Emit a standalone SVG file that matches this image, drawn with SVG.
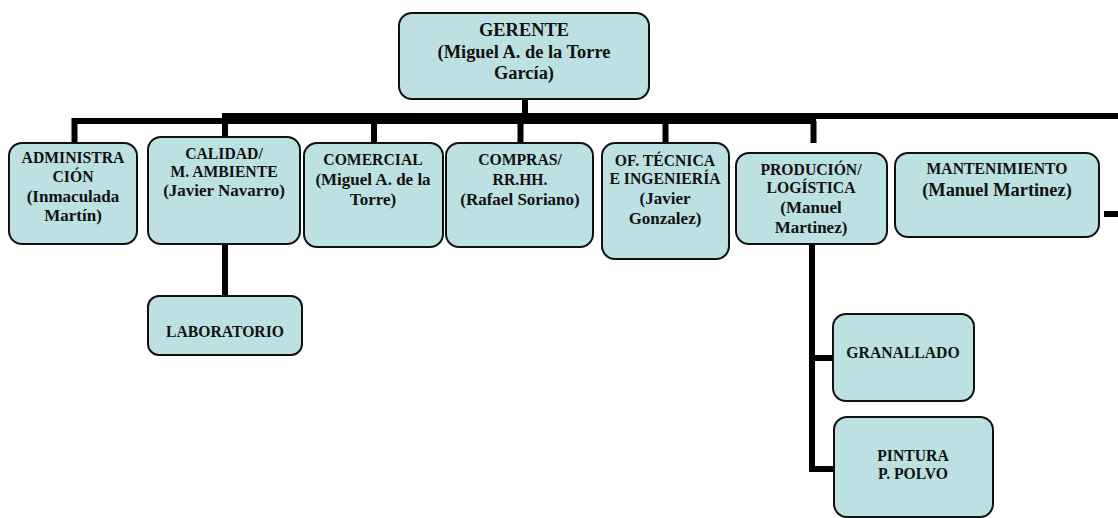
<svg xmlns="http://www.w3.org/2000/svg" width="1118" height="518" viewBox="0 0 1118 518">
<style>
.box{fill:#bde0e3;stroke:#111;stroke-width:2}
.ln{stroke:#000;fill:none;stroke-width:6}
text{font-family:"Liberation Serif","Times New Roman",serif;font-weight:bold;fill:#111;text-anchor:middle}
.t{font-size:15.7px}
.n{font-size:17px}
.g{font-size:18.4px}
</style>
<rect width="1118" height="518" fill="#fff"/>
<g id="connectors">
<line class="ln" x1="72" y1="121" x2="816" y2="121"/>
<line class="ln" x1="222" y1="116" x2="1118" y2="116" stroke-width="5"/>
<line class="ln" x1="525" y1="99" x2="525" y2="117"/>
<line class="ln" x1="74.5" y1="118" x2="74.5" y2="143"/>
<line class="ln" x1="225" y1="118" x2="225" y2="137"/>
<line class="ln" x1="374" y1="121" x2="374" y2="143"/>
<line class="ln" x1="520.5" y1="121" x2="520.5" y2="143"/>
<line class="ln" x1="665.5" y1="121" x2="665.5" y2="143"/>
<line class="ln" x1="813.5" y1="121" x2="813.5" y2="143"/>
<line class="ln" x1="225" y1="244" x2="225" y2="296"/>
<polyline class="ln" points="812,244 812,469 834,469"/>
<line class="ln" x1="812" y1="358" x2="833" y2="358"/>
<line class="ln" x1="1104" y1="214" x2="1118" y2="214"/>
</g>
<g id="gerente">
<rect class="box" x="399" y="13" width="250" height="86" rx="13"/>
<text class="g" x="524" y="36">GERENTE</text>
<text class="g" x="524" y="58">(Miguel A. de la Torre</text>
<text class="g" x="524" y="79">García)</text>
</g>
<g id="administracion">
<rect class="box" x="9" y="143" width="128" height="101" rx="13"/>
<text class="t" x="73" y="163">ADMINISTRA</text>
<text class="t" x="73" y="182">CIÓN</text>
<text class="n" x="73" y="202">(Inmaculada</text>
<text class="n" x="73" y="221">Martín)</text>
</g>
<g id="calidad">
<rect class="box" x="148" y="137" width="152" height="107" rx="13"/>
<text class="t" x="224" y="159">CALIDAD/</text>
<text class="t" x="224" y="177">M. AMBIENTE</text>
<text class="n" x="224" y="196">(Javier Navarro)</text>
</g>
<g id="comercial">
<rect class="box" x="304" y="143" width="139" height="104" rx="13"/>
<text class="t" x="373" y="165">COMERCIAL</text>
<text class="n" x="373" y="185">(Miguel A. de la</text>
<text class="n" x="373" y="205">Torre)</text>
</g>
<g id="compras">
<rect class="box" x="446" y="143" width="147" height="104" rx="13"/>
<text class="t" x="520" y="165">COMPRAS/</text>
<text class="t" x="520" y="185">RR.HH.</text>
<text class="n" x="520" y="205">(Rafael Soriano)</text>
</g>
<g id="oftecnica">
<rect class="box" x="602" y="143" width="127" height="116" rx="13"/>
<text class="t" x="665" y="166">OF. TÉCNICA</text>
<text class="t" x="665" y="184">E INGENIERÍA</text>
<text class="n" x="665" y="204">(Javier</text>
<text class="n" x="665" y="224">Gonzalez)</text>
</g>
<g id="produccion">
<rect class="box" x="736" y="153" width="151" height="91" rx="13"/>
<text class="t" x="811" y="175">PRODUCIÓN/</text>
<text class="t" x="811" y="193">LOGÍSTICA</text>
<text class="n" x="811" y="213">(Manuel</text>
<text class="n" x="811" y="233">Martinez)</text>
</g>
<g id="mantenimiento">
<rect class="box" x="895" y="153" width="204" height="84" rx="13"/>
<text class="t" x="997" y="174">MANTENIMIENTO</text>
<text class="g" x="997" y="196">(Manuel Martinez)</text>
</g>
<g id="laboratorio">
<rect class="box" x="148" y="296" width="154" height="59" rx="11"/>
<text class="t" x="225" y="337">LABORATORIO</text>
</g>
<g id="granallado">
<rect class="box" x="833" y="314" width="141" height="87" rx="13"/>
<text class="t" x="903" y="358">GRANALLADO</text>
</g>
<g id="pintura">
<rect class="box" x="834" y="417" width="159" height="100" rx="13"/>
<text class="t" x="913" y="461">PINTURA</text>
<text class="t" x="913" y="479">P. POLVO</text>
</g>
</svg>
